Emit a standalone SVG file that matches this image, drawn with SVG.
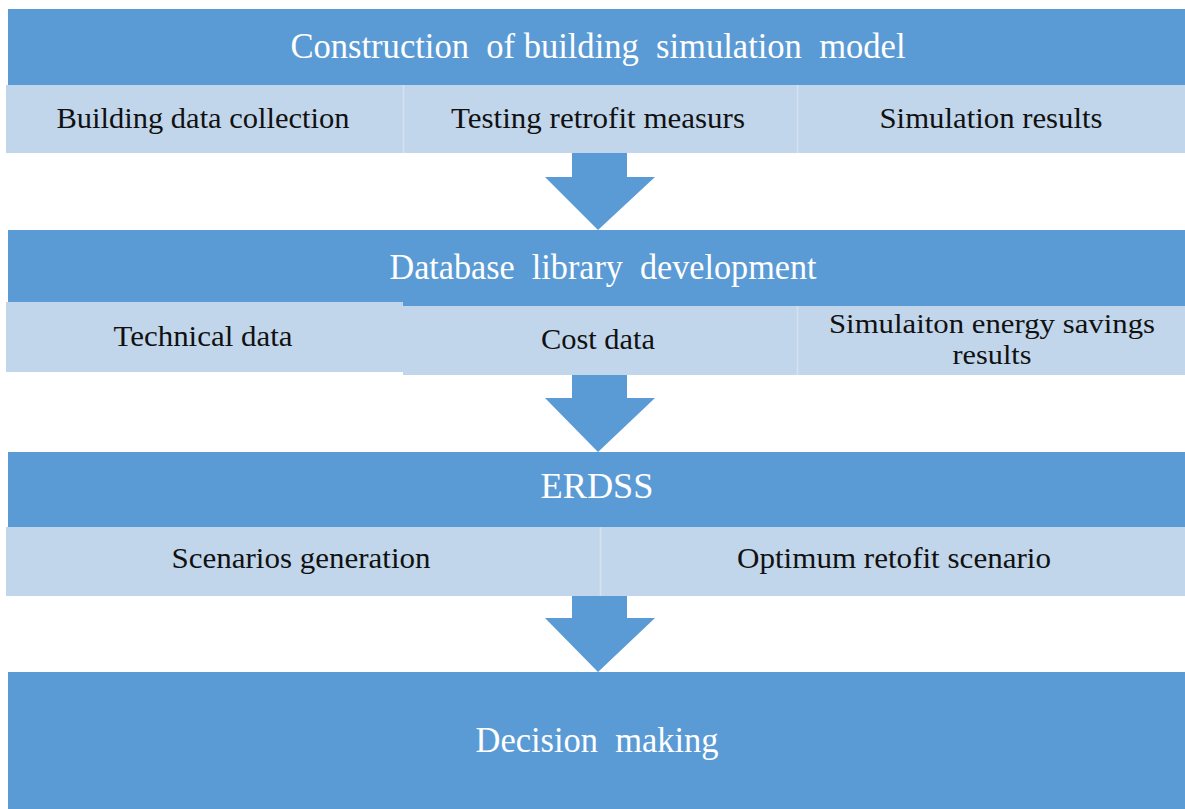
<svg xmlns="http://www.w3.org/2000/svg" width="1185" height="809" viewBox="0 0 1185 809">
<style>
.hdr{fill:#5B9BD5}
.sub{fill:#C2D6EB}
.div{stroke:#D3E1F1;stroke-width:1.5}
.arrow{fill:#5B9BD5}
.ht{font-family:"Liberation Serif","Times New Roman",serif;font-size:35px;fill:#FFFFFF;text-anchor:middle;white-space:pre}
.st{font-family:"Liberation Serif","Times New Roman",serif;font-size:30px;fill:#111111;text-anchor:middle}
.st2{font-family:"Liberation Serif","Times New Roman",serif;font-size:27px;fill:#111111;text-anchor:middle}
</style>
<rect x="0" y="0" width="1185" height="809" fill="#FFFFFF"/>
<g id="stage1">
  <rect class="hdr" x="8" y="9" width="1177" height="76"/>
  <text class="ht" x="598" y="58" textLength="615" lengthAdjust="spacingAndGlyphs" xml:space="preserve">Construction  of building  simulation  model</text>
</g>
<g id="stage1-items">
  <g id="building-data-collection">
    <rect class="sub" x="6" y="85" width="397" height="68"/>
    <text class="st" x="203" y="128" textLength="293" lengthAdjust="spacingAndGlyphs">Building data collection</text>
  </g>
  <g id="testing-retrofit">
    <rect class="sub" x="403" y="85" width="394" height="68"/>
    <text class="st" x="598" y="128" textLength="294" lengthAdjust="spacingAndGlyphs">Testing retrofit measurs</text>
  </g>
  <g id="simulation-results">
    <rect class="sub" x="797" y="85" width="388" height="68"/>
    <text class="st" x="991" y="128" textLength="223" lengthAdjust="spacingAndGlyphs">Simulation results</text>
  </g>
  <line class="div" x1="403.5" y1="85" x2="403.5" y2="153"/>
  <line class="div" x1="797.5" y1="85" x2="797.5" y2="153"/>
</g>
<g id="stage2">
  <rect class="hdr" x="8" y="230" width="1177" height="76"/>
  <text class="ht" x="603" y="279" textLength="427" lengthAdjust="spacingAndGlyphs" xml:space="preserve">Database  library  development</text>
</g>
<g id="stage2-items">
  <g id="technical-data">
    <rect class="sub" x="6" y="302" width="397" height="70"/>
    <text class="st" x="203" y="346" textLength="179" lengthAdjust="spacingAndGlyphs">Technical data</text>
  </g>
  <g id="cost-data">
    <rect class="sub" x="403" y="306" width="394" height="69"/>
    <text class="st" x="598" y="349" textLength="114" lengthAdjust="spacingAndGlyphs">Cost data</text>
  </g>
  <g id="energy-savings">
    <rect class="sub" x="797" y="306" width="388" height="69"/>
    <text class="st2" x="992" y="333" textLength="326" lengthAdjust="spacingAndGlyphs">Simulaiton energy savings</text>
    <text class="st2" x="992" y="364" textLength="79" lengthAdjust="spacingAndGlyphs">results</text>
  </g>
  <line class="div" x1="797.5" y1="306" x2="797.5" y2="375"/>
</g>
<g id="stage3">
  <rect class="hdr" x="8" y="452" width="1177" height="75"/>
  <text class="ht" x="597" y="498" textLength="113" lengthAdjust="spacingAndGlyphs">ERDSS</text>
</g>
<g id="stage3-items">
  <g id="scenarios-generation">
    <rect class="sub" x="6" y="527" width="594" height="69"/>
    <text class="st" x="301" y="568" textLength="259" lengthAdjust="spacingAndGlyphs">Scenarios generation</text>
  </g>
  <g id="optimum-scenario">
    <rect class="sub" x="600" y="527" width="585" height="69"/>
    <text class="st" x="894" y="568" textLength="314" lengthAdjust="spacingAndGlyphs">Optimum retofit scenario</text>
  </g>
  <line class="div" x1="600.5" y1="527" x2="600.5" y2="596"/>
</g>
<g id="stage4">
  <rect class="hdr" x="8" y="672" width="1177" height="137"/>
  <text class="ht" x="597" y="752" textLength="243" lengthAdjust="spacingAndGlyphs" xml:space="preserve">Decision  making</text>
</g>
<g id="connectors">
  <polygon class="arrow" points="572,153 627,153 627,177 655,177 598,230 545,177 572,177"/>
  <polygon class="arrow" points="572,375 627,375 627,398 655,398 598,452 545,398 572,398"/>
  <polygon class="arrow" points="572,596 627,596 627,618 655,618 598,672 545,618 572,618"/>
</g>
</svg>
